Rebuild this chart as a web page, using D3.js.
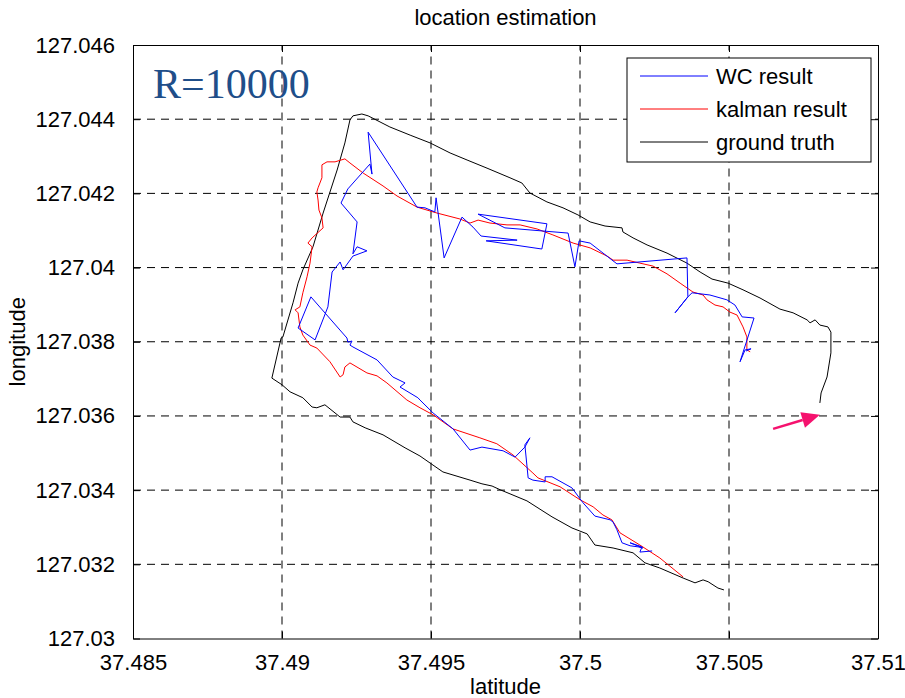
<!DOCTYPE html>
<html>
<head>
<meta charset="utf-8">
<script src="https://cdn.jsdelivr.net/npm/d3@7"></script>
<style>
  body { margin: 0; background: #fff; }
  text { font-family: "Liberation Sans", Arial, sans-serif; }
</style>
</head>
<body>
<script>
// axis ticks
const xTicks = [37.485, 37.49, 37.495, 37.5, 37.505, 37.51];
const yTicks = [127.03, 127.032, 127.034, 127.036, 127.038, 127.04, 127.042, 127.044, 127.046];

// [latitude, longitude]
const groundTruth = [
  [37.50483,127.03131],[37.50463,127.03136],[37.50430,127.03153],[37.50413,127.03158],[37.50386,127.03150],
  [37.50346,127.03163],[37.50268,127.03190],[37.50218,127.03204],[37.50178,127.03231],[37.50111,127.03244],
  [37.50050,127.03252],[37.50024,127.03282],[37.49973,127.03298],[37.49906,127.03328],[37.49822,127.03371],
  [37.49732,127.03401],[37.49705,127.03411],[37.49671,127.03417],[37.49631,127.03427],[37.49540,127.03449],
  [37.49497,127.03473],[37.49463,127.03492],[37.49413,127.03514],[37.49339,127.03549],[37.49279,127.03568],
  [37.49238,127.03584],[37.49228,127.03597],[37.49195,127.03597],[37.49144,127.03630],[37.49117,127.03622],
  [37.49101,127.03624],[37.49070,127.03649],[37.49027,127.03665],[37.49000,127.03684],[37.48966,127.03702],
  [37.48997,127.03810],[37.49003,127.03813],[37.49037,127.03905],[37.49054,127.03958],[37.49070,127.03994],
  [37.49104,127.04056],[37.49138,127.04147],[37.49185,127.04263],[37.49211,127.04336],[37.49228,127.04398],
  [37.49238,127.04409],[37.49268,127.04414],[37.49289,127.04409],[37.49362,127.04379],[37.49430,127.04357],
  [37.49497,127.04336],[37.49564,127.04309],[37.49621,127.04290],[37.49688,127.04268],[37.49765,127.04242],
  [37.49805,127.04228],[37.49832,127.04201],[37.49889,127.04177],[37.49943,127.04161],[37.49993,127.04142],
  [37.50034,127.04123],[37.50084,127.04112],[37.50141,127.04107],[37.50144,127.04096],[37.50178,127.04080],
  [37.50225,127.04061],[37.50292,127.04039],[37.50359,127.04012],[37.50403,127.03988],[37.50443,127.03969],
  [37.50497,127.03958],[37.50547,127.03940],[37.50604,127.03918],[37.50671,127.03888],[37.50715,127.03878],
  [37.50762,127.03859],[37.50772,127.03851],[37.50789,127.03859],[37.50805,127.03845],[37.50832,127.03840],
  [37.50842,127.03826],[37.50842,127.03770],[37.50829,127.03705],[37.50809,127.03662],[37.50805,127.03635]
];

const kalmanResult = [
  [37.50346,127.03166],[37.50268,127.03217],[37.50201,127.03252],[37.50134,127.03285],[37.50107,127.03320],
  [37.50077,127.03333],[37.50044,127.03355],[37.50000,127.03374],[37.49933,127.03409],[37.49859,127.03433],
  [37.49842,127.03446],[37.49775,127.03495],[37.49721,127.03525],[37.49664,127.03541],[37.49574,127.03565],
  [37.49507,127.03603],[37.49463,127.03622],[37.49419,127.03643],[37.49352,127.03689],[37.49319,127.03708],
  [37.49285,127.03716],[37.49228,127.03743],[37.49211,127.03732],[37.49205,127.03711],[37.49195,127.03705],
  [37.49161,127.03746],[37.49117,127.03783],[37.49094,127.03791],[37.49070,127.03818],[37.49060,127.03840],
  [37.49054,127.03878],[37.49044,127.03886],[37.49060,127.03894],[37.49070,127.03932],[37.49084,127.03975],
  [37.49094,127.04012],[37.49101,127.04056],[37.49087,127.04066],[37.49101,127.04080],[37.49138,127.04107],
  [37.49134,127.04134],[37.49124,127.04155],[37.49121,127.04182],[37.49117,127.04204],[37.49121,127.04215],
  [37.49134,127.04242],[37.49134,127.04277],[37.49151,127.04285],[37.49178,127.04285],[37.49211,127.04293],
  [37.49228,127.04282],[37.49272,127.04255],[37.49339,127.04220],[37.49386,127.04193],[37.49453,127.04163],
  [37.49520,127.04147],[37.49597,127.04131],[37.49631,127.04120],[37.49658,127.04128],[37.49698,127.04120],
  [37.49755,127.04115],[37.49799,127.04115],[37.49856,127.04104],[37.49909,127.04088],[37.49977,127.04066],
  [37.50034,127.04053],[37.50091,127.04031],[37.50111,127.04020],[37.50158,127.04020],[37.50201,127.04012],
  [37.50245,127.04004],[37.50292,127.03983],[37.50336,127.03958],[37.50379,127.03934],[37.50413,127.03926],
  [37.50426,127.03913],[37.50453,127.03899],[37.50480,127.03894],[37.50503,127.03880],[37.50527,127.03872],
  [37.50547,127.03840],[37.50560,127.03813],[37.50560,127.03778],[37.50571,127.03773]
];

const wcResult = [
  [37.50242,127.03236],[37.50201,127.03233],[37.50208,127.03247],[37.50168,127.03258],[37.50211,127.03244],
  [37.50195,127.03247],[37.50168,127.03250],[37.50141,127.03258],[37.50124,127.03293],[37.50111,127.03314],
  [37.50101,127.03320],[37.50050,127.03330],[37.50010,127.03366],[37.49973,127.03406],[37.49906,127.03436],
  [37.49883,127.03436],[37.49883,127.03422],[37.49842,127.03427],[37.49826,127.03433],[37.49815,127.03522],
  [37.49832,127.03541],[37.49815,127.03516],[37.49782,127.03489],[37.49742,127.03506],[37.49671,127.03516],
  [37.49631,127.03508],[37.49574,127.03565],[37.49507,127.03608],[37.49463,127.03643],[37.49456,127.03649],
  [37.49396,127.03678],[37.49413,127.03689],[37.49372,127.03705],[37.49319,127.03751],[37.49238,127.03786],
  [37.49228,127.03791],[37.49235,127.03802],[37.49221,127.03799],[37.49218,127.03810],[37.49097,127.03921],
  [37.49054,127.03837],[37.49111,127.03805],[37.49154,127.03894],[37.49168,127.03988],[37.49195,127.04015],
  [37.49205,127.03994],[37.49238,127.04031],[37.49285,127.04045],[37.49252,127.04056],[37.49238,127.04037],
  [37.49252,127.04123],[37.49198,127.04174],[37.49221,127.04212],[37.49295,127.04279],[37.49302,127.04252],
  [37.49289,127.04365],[37.49453,127.04163],[37.49480,127.04161],[37.49513,127.04150],[37.49517,127.04188],
  [37.49544,127.04026],[37.49604,127.04136],[37.49641,127.04109],[37.49668,127.04085],[37.49789,127.04074],
  [37.49685,127.04072],[37.49872,127.04050],[37.49889,127.04118],[37.49658,127.04144],[37.49748,127.04107],
  [37.49960,127.04093],[37.49983,127.04002],[37.49997,127.04072],[37.50034,127.04066],[37.50124,127.04010],
  [37.50359,127.04026],[37.50362,127.03921],[37.50319,127.03878],[37.50362,127.03921],[37.50376,127.03932],
  [37.50436,127.03926],[37.50493,127.03913],[37.50520,127.03899],[37.50544,127.03867],[37.50584,127.03864],
  [37.50537,127.03746],[37.50554,127.03778],[37.50574,127.03781],[37.50557,127.03775]
];

// arrow annotation: tail, tip
const arrowPts = [[37.50648,127.03565],[37.50805,127.03603]];

const series = [
  {name: 'WC result', data: wcResult, color: '#0000ff'},
  {name: 'kalman result', data: kalmanResult, color: '#ff0000'},
  {name: 'ground truth', data: groundTruth, color: '#000000'}
];

const W = 905, H = 698;
const margin = {top: 45, right: 27, bottom: 59.5, left: 133};

const svg = d3.select('body').append('svg')
  .attr('width', W)
  .attr('height', H);

const x = d3.scaleLinear()
  .domain([37.485, 37.51])
  .range([margin.left, W - margin.right]);

const y = d3.scaleLinear()
  .domain([127.03, 127.046])
  .range([H - margin.bottom, margin.top]);

const fmt = v => String(+v.toFixed(3));

// grid
svg.append('g')
  .selectAll('line')
  .data(xTicks.slice(1, -1))
  .join('line')
  .attr('x1', d => x(d)).attr('x2', d => x(d))
  .attr('y1', y(127.03)).attr('y2', y(127.046))
  .attr('stroke', '#000').attr('stroke-width', 1)
  .attr('stroke-dasharray', '8,6');

svg.append('g')
  .selectAll('line')
  .data(yTicks.slice(1, -1))
  .join('line')
  .attr('x1', x(37.485)).attr('x2', x(37.51))
  .attr('y1', d => y(d)).attr('y2', d => y(d))
  .attr('stroke', '#000').attr('stroke-width', 1)
  .attr('stroke-dasharray', '8,6');

// axes (box with inward ticks)
const tickLen = 7;
svg.append('g')
  .attr('transform', `translate(0,${y(127.03)})`)
  .call(d3.axisBottom(x).tickValues(xTicks).tickFormat(fmt).tickSizeInner(-tickLen).tickSizeOuter(0).tickPadding(16))
  .call(g => g.selectAll('text').style('font-size', '22px').attr('fill', '#000'));

svg.append('g')
  .attr('transform', `translate(0,${y(127.046)})`)
  .call(d3.axisTop(x).tickValues(xTicks).tickFormat('').tickSizeInner(-tickLen).tickSizeOuter(0));

svg.append('g')
  .attr('transform', `translate(${x(37.485)},0)`)
  .call(d3.axisLeft(y).tickValues(yTicks).tickFormat(fmt).tickSizeInner(-tickLen).tickSizeOuter(0).tickPadding(18))
  .call(g => g.selectAll('text').style('font-size', '22px').attr('fill', '#000'));

svg.append('g')
  .attr('transform', `translate(${x(37.51)},0)`)
  .call(d3.axisRight(y).tickValues(yTicks).tickFormat('').tickSizeInner(-tickLen).tickSizeOuter(0));

svg.selectAll('.domain').attr('stroke', '#000');

// lines
const line = d3.line()
  .x(d => x(d[0]))
  .y(d => y(d[1]));

svg.append('g')
  .selectAll('path')
  .data(series.slice().reverse())
  .join('path')
  .attr('d', d => line(d.data))
  .attr('fill', 'none')
  .attr('stroke', d => d.color)
  .attr('stroke-width', 1)
  .attr('stroke-linejoin', 'round');

// arrow
const tail = [x(arrowPts[0][0]), y(arrowPts[0][1])];
const tip = [x(arrowPts[1][0]), y(arrowPts[1][1])];
const ang = Math.atan2(tip[1] - tail[1], tip[0] - tail[0]);
const headL = 18, headW = 8;
const base = [tip[0] - headL * Math.cos(ang), tip[1] - headL * Math.sin(ang)];
svg.append('line')
  .attr('x1', tail[0]).attr('y1', tail[1])
  .attr('x2', base[0]).attr('y2', base[1])
  .attr('stroke', '#f5126e').attr('stroke-width', 2.5);
svg.append('path')
  .attr('d', `M${tip[0]},${tip[1]}L${base[0] + headW * Math.sin(ang)},${base[1] - headW * Math.cos(ang)}L${base[0] - headW * Math.sin(ang)},${base[1] + headW * Math.cos(ang)}Z`)
  .attr('fill', '#f5126e');

// R label
svg.append('text')
  .attr('x', 153).attr('y', 98)
  .style('font-family', '"Liberation Serif", "Times New Roman", serif')
  .style('font-size', '42px')
  .attr('fill', '#1f4e89')
  .text('R=10000');

// legend
const lg = svg.append('g').attr('transform', 'translate(627,58)');
lg.append('rect')
  .attr('width', 244).attr('height', 104)
  .attr('fill', '#fff').attr('stroke', '#000').attr('stroke-width', 1);
const rows = lg.selectAll('g.row')
  .data(series)
  .join('g')
  .attr('class', 'row')
  .attr('transform', (d, i) => `translate(0,${18 + i * 33})`);
rows.append('line')
  .attr('x1', 13).attr('x2', 81)
  .attr('stroke', d => d.color).attr('stroke-width', 1);
rows.append('text')
  .attr('x', 89).attr('dy', '0.35em')
  .style('font-size', '22px')
  .text(d => d.name);

// title and axis labels
svg.append('text')
  .attr('x', (x(37.485) + x(37.51)) / 2).attr('y', 25)
  .attr('text-anchor', 'middle')
  .style('font-size', '22px')
  .text('location estimation');

svg.append('text')
  .attr('x', (x(37.485) + x(37.51)) / 2).attr('y', 694)
  .attr('text-anchor', 'middle')
  .style('font-size', '22px')
  .text('latitude');

svg.append('text')
  .attr('transform', `translate(25,${(y(127.03) + y(127.046)) / 2}) rotate(-90)`)
  .attr('text-anchor', 'middle')
  .style('font-size', '22px')
  .text('longitude');
</script>
</body>
</html>
